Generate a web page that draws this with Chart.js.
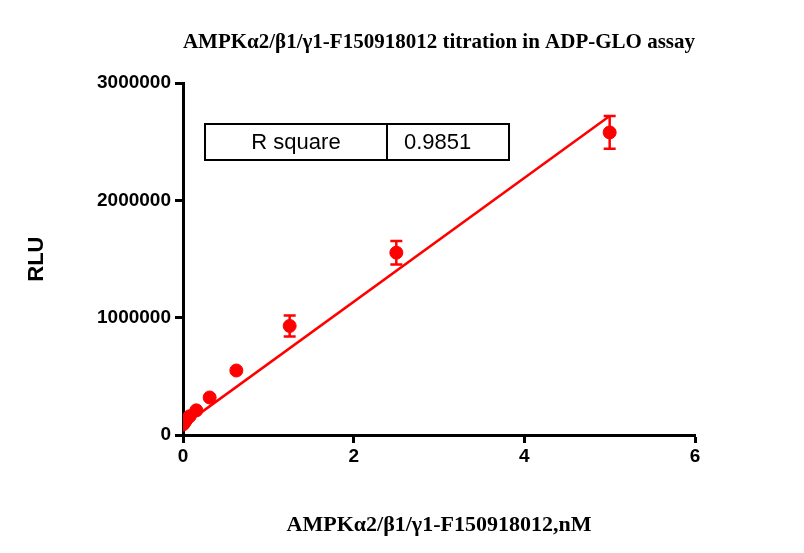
<!DOCTYPE html>
<html><head><meta charset="utf-8">
<script src="https://cdn.jsdelivr.net/npm/chart.js@4"></script>
<style>
body{margin:0;background:#fff;}
#wrap{position:relative;width:804px;height:553px;}
#tbl{position:absolute;left:204px;top:123px;width:302px;height:34px;border:2px solid #000;display:flex;font:22px "Liberation Sans",Arial,sans-serif;}
#tbl div{display:flex;align-items:center;}
</style></head><body>
<div id="wrap"><canvas id="c" width="804" height="553"></canvas>
<div id="tbl"><div style="width:180px;border-right:2px solid #000;justify-content:center">R square</div><div style="padding-left:16px">0.9851</div></div>
</div>
<script>
const conc = [0, 0.0098, 0.0195, 0.039, 0.078, 0.156, 0.3125, 0.625, 1.25, 2.5, 5];
const rlu = [90000, 100000, 110000, 130000, 160000, 210000, 320000, 550000, 930000, 1555000, 2580000];
const err = [5000, 5000, 5000, 8000, 10000, 15000, 20000, 25000, 90000, 100000, 140000];
const fitX = [0, 5];
const fitY = [80000, 2720000];

const errorBars = {
  id: 'errorBars',
  afterDatasetsDraw(chart) {
    const {ctx, scales: {x, y}} = chart;
    ctx.save();
    ctx.strokeStyle = '#ff0000';
    ctx.lineWidth = 2.5;
    conc.forEach((c, i) => {
      const px = x.getPixelForValue(c);
      const top = y.getPixelForValue(rlu[i] + err[i]);
      const bot = y.getPixelForValue(rlu[i] - err[i]);
      if (bot - top < 14) return;
      ctx.beginPath();
      ctx.moveTo(px, top); ctx.lineTo(px, bot);
      ctx.moveTo(px - 6, top); ctx.lineTo(px + 6, top);
      ctx.moveTo(px - 6, bot); ctx.lineTo(px + 6, bot);
      ctx.stroke();
    });
    ctx.restore();
  }
};

const tickFont = {family: '"Liberation Sans",Arial', size: 19, weight: 'bold'};

new Chart(document.getElementById('c'), {
  type: 'scatter',
  data: {
    datasets: [
      {data: conc.map((c, i) => ({x: c, y: rlu[i]})), backgroundColor: '#ff0000', borderColor: '#ff0000', pointRadius: 6.5},
      {type: 'line', data: fitX.map((c, i) => ({x: c, y: fitY[i]})), borderColor: '#ff0000', borderWidth: 2.5, pointRadius: 0}
    ]
  },
  options: {
    responsive: false, animation: false,
    layout: {padding: {left: 20, right: 109, top: 25, bottom: 10}},
    plugins: {
      legend: {display: false}, tooltip: {enabled: false},
      title: {display: true, text: 'AMPKα2/β1/γ1-F150918012 titration in ADP-GLO assay', color: '#000',
        font: {family: '"Liberation Serif","Times New Roman",serif', size: 21, weight: 'bold'}, padding: {top: 5, bottom: 28}, align: 'end'}
    },
    scales: {
      x: {type: 'linear', min: 0, max: 6,
        afterFit(s) { s.height = 108; },
        ticks: {stepSize: 2, color: '#000', font: tickFont, padding: 2},
        grid: {drawOnChartArea: false, drawTicks: true, tickLength: 8, tickColor: '#000', tickWidth: 3},
        border: {color: '#000', width: 3},
        title: {display: true, text: 'AMPKα2/β1/γ1-F150918012,nM', color: '#000', font: {family: '"Liberation Serif","Times New Roman",serif', size: 22, weight: 'bold'}, padding: {top: 22}}},
      y: {min: 0, max: 3000000,
        afterFit(s) { s.width = 163; },
        ticks: {stepSize: 1000000, color: '#000', font: tickFont, padding: 4, callback: v => String(v)},
        grid: {drawOnChartArea: false, drawTicks: true, tickLength: 8, tickColor: '#000', tickWidth: 3},
        border: {color: '#000', width: 3},
        title: {display: true, text: 'RLU', color: '#000', font: {family: '"Liberation Sans",Arial', size: 22, weight: 'bold'}, padding: {bottom: 10}}}
    }
  },
  plugins: [errorBars]
});
</script>
</body></html>
